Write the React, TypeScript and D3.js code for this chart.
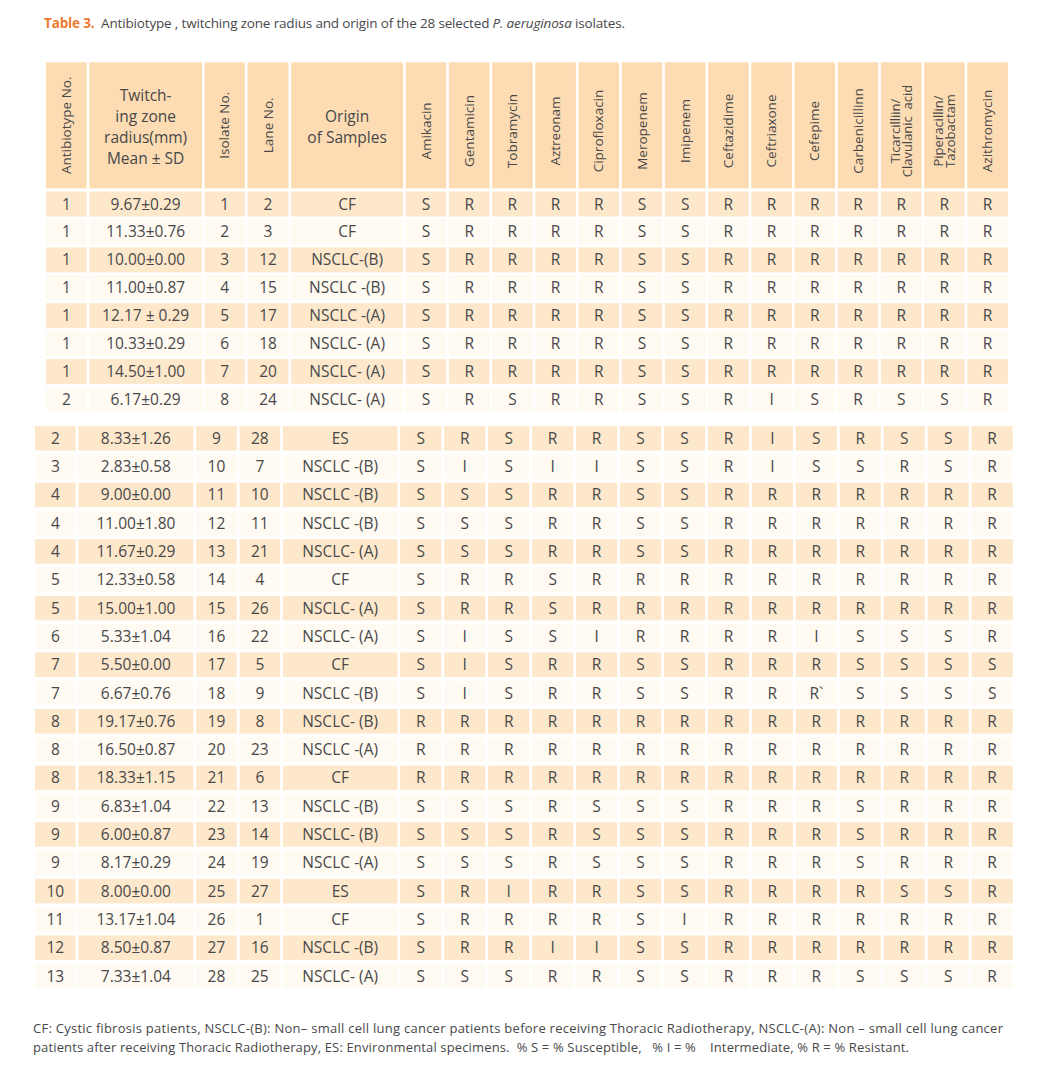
import React from "react";
import * as d3 from "d3";

// ---------- data ----------
const drugLabels: string[][] = [
  ["Amikacin"], ["Gentamicin"], ["Tobramycin"], ["Aztreonam"], ["Ciprofloxacin"],
  ["Meropenem"], ["Imipenem"], ["Ceftazidime"], ["Ceftriaxone"], ["Cefepime"],
  ["Carbenicillinn"], ["Ticarcilliin/", "Clavulanic  acid"], ["Piperacillin/", "Tazobactam"], ["Azithromycin"],
];

const antibiotypeNo = [1, 1, 1, 1, 1, 1, 1, 2, 2, 3, 4, 4, 4, 5, 5, 6, 7, 7, 8, 8, 8, 9, 9, 9, 10, 11, 12, 13];

const twitchingRadius = [
  "9.67±0.29", "11.33±0.76", "10.00±0.00", "11.00±0.87", "12.17 ± 0.29", "10.33±0.29", "14.50±1.00",
  "6.17±0.29", "8.33±1.26", "2.83±0.58", "9.00±0.00", "11.00±1.80", "11.67±0.29", "12.33±0.58",
  "15.00±1.00", "5.33±1.04", "5.50±0.00", "6.67±0.76", "19.17±0.76", "16.50±0.87", "18.33±1.15",
  "6.83±1.04", "6.00±0.87", "8.17±0.29", "8.00±0.00", "13.17±1.04", "8.50±0.87", "7.33±1.04",
];

const isolateNo = [1, 2, 3, 4, 5, 6, 7, 8, 9, 10, 11, 12, 13, 14, 15, 16, 17, 18, 19, 20, 21, 22, 23, 24, 25, 26, 27, 28];

const laneNo = [2, 3, 12, 15, 17, 18, 20, 24, 28, 7, 10, 11, 21, 4, 26, 22, 5, 9, 8, 23, 6, 13, 14, 19, 27, 1, 16, 25];

const origin = [
  "CF", "CF", "NSCLC-(B)", "NSCLC -(B)", "NSCLC -(A)", "NSCLC- (A)", "NSCLC- (A)", "NSCLC- (A)",
  "ES", "NSCLC -(B)", "NSCLC -(B)", "NSCLC -(B)", "NSCLC- (A)", "CF", "NSCLC- (A)", "NSCLC- (A)",
  "CF", "NSCLC -(B)", "NSCLC- (B)", "NSCLC -(A)", "CF", "NSCLC -(B)", "NSCLC- (B)", "NSCLC -(A)",
  "ES", "CF", "NSCLC -(B)", "NSCLC- (A)",
];

const profiles = [
  "S R R R R S S R R R R R R R",
  "S R R R R S S R R R R R R R",
  "S R R R R S S R R R R R R R",
  "S R R R R S S R R R R R R R",
  "S R R R R S S R R R R R R R",
  "S R R R R S S R R R R R R R",
  "S R R R R S S R R R R R R R",
  "S R S R R S S R I S R S S R",
  "S R S R R S S R I S R S S R",
  "S I S I I S S R I S S R S R",
  "S S S R R S S R R R R R R R",
  "S S S R R S S R R R R R R R",
  "S S S R R S S R R R R R R R",
  "S R R S R R R R R R R R R R",
  "S R R S R R R R R R R R R R",
  "S I S S I R R R R I S S S R",
  "S I S R R S S R R R S S S S",
  "S I S R R S S R R R` S S S S",
  "R R R R R R R R R R R R R R",
  "R R R R R R R R R R R R R R",
  "R R R R R R R R R R R R R R",
  "S S S R S S S R R R S R R R",
  "S S S R S S S R R R S R R R",
  "S S S R S S S R R R S R R R",
  "S R I R R S S R R R R S S R",
  "S R R R R S I R R R R R R R",
  "S R R I I S S R R R R R R R",
  "S S S R R S S R R R S S S R",
];

const fixedHeaders: { lines: string[]; rotated: boolean }[] = [
  { lines: ["Antibiotype No."], rotated: true },
  { lines: ["Twitch-", "ing zone", "radius(mm)", "Mean ± SD"], rotated: false },
  { lines: ["Isolate No."], rotated: true },
  { lines: ["Lane No."], rotated: true },
  { lines: ["Origin", "of Samples"], rotated: false },
];

const footnoteLines = [
  "CF: Cystic fibrosis patients, NSCLC-(B): Non– small cell lung cancer patients before receiving Thoracic Radiotherapy, NSCLC-(A): Non – small cell lung cancer",
  "patients after receiving Thoracic Radiotherapy, ES: Environmental specimens.  % S = % Susceptible,   % I = %    Intermediate, % R = % Resistant.",
];

// ---------- style / layout ----------
const W = 1046;
const H = 1071;
const FONT = "'Open Sans', 'Noto Sans', sans-serif";
const TEXT = "#48484a";
const ORANGE = "#ec7a2f";
const HEADER_FILL = "#fddcb3";
const STRIPE_FILL = "#fee8cc";
const LIGHT_FILL = "#fffaf2";

const blocks = [
  { rows: d3.range(0, 8), x0: 46, gap: 2.6, fixed: [40.7, 112.7, 40.3, 41, 112], drugStep: 43.2, drugW: 40.6, rowStart: 191.5, rowStep: 27.9, rowH: 25, header: true },
  { rows: d3.range(8, 28), x0: 35, gap: 2.7, fixed: [40.7, 115, 40.7, 40.7, 114.6], drugStep: 43.95, drugW: 41.2, rowStart: 426, rowStep: 28.3, rowH: 24.6, header: false },
];

const HEADER_TOP = 62.3;
const HEADER_BOTTOM = 188.3;

function Block({ b }: { b: (typeof blocks)[number] }) {
  const fixedX: number[] = [];
  let acc = b.x0;
  b.fixed.forEach((w) => {
    fixedX.push(acc);
    acc += w + b.gap;
  });
  const drugStart = acc;
  const pDrug = 1 - b.drugW / b.drugStep;
  const xDrug = d3
    .scaleBand<number>()
    .domain(d3.range(drugLabels.length))
    .range([drugStart, drugStart + b.drugStep * (drugLabels.length - pDrug)])
    .paddingInner(pDrug)
    .paddingOuter(0);
  const pRow = 1 - b.rowH / b.rowStep;
  const yRow = d3
    .scaleBand<number>()
    .domain(b.rows)
    .range([b.rowStart, b.rowStart + b.rowStep * (b.rows.length - pRow)])
    .paddingInner(pRow)
    .paddingOuter(0);

  const cols = [
    ...b.fixed.map((w, i) => ({ x: fixedX[i], w })),
    ...drugLabels.map((_, i) => ({ x: xDrug(i)!, w: xDrug.bandwidth() })),
  ];

  const hMid = (HEADER_TOP + HEADER_BOTTOM) / 2;

  return (
    <g>
      {b.header && (
        <g>
          {cols.map((c, i) => (
            <rect key={"h" + i} x={c.x} y={HEADER_TOP} width={c.w} height={HEADER_BOTTOM - HEADER_TOP} fill={HEADER_FILL} />
          ))}
          {fixedHeaders.map((h, i) => {
            const cx = cols[i].x + cols[i].w / 2;
            if (h.rotated) {
              return (
                <text key={"ht" + i} transform={`translate(${cx},${hMid}) rotate(-90)`} textAnchor="middle" dy="0.34em" fontSize={13.5} fill={TEXT}>
                  {h.lines[0]}
                </text>
              );
            }
            const lh = 21;
            const y0 = hMid + 2 - ((h.lines.length - 1) * lh) / 2;
            return (
              <text key={"ht" + i} textAnchor="middle" fontSize={15.5} fill={TEXT}>
                {h.lines.map((l, j) => (
                  <tspan key={j} x={cx} y={y0 + j * lh} dy="0.36em">
                    {l}
                  </tspan>
                ))}
              </text>
            );
          })}
          {drugLabels.map((lines, i) => {
            const cx = xDrug(i)! + xDrug.bandwidth() / 2;
            const lh = 12;
            return lines.map((l, j) => {
              const off = (j - (lines.length - 1) / 2) * lh;
              return (
                <text
                  key={"d" + i + "_" + j}
                  transform={`translate(${cx + off},131) rotate(-90)`}
                  textAnchor="middle"
                  dy="0.34em"
                  fontSize={lines.length > 1 ? 13 : 13.5}
                  fill={TEXT}
                  style={{ whiteSpace: "pre" }}
                >
                  {l}
                </text>
              );
            });
          })}
        </g>
      )}
      {b.rows.map((r, k) => {
        const y = yRow(r)!;
        const h = yRow.bandwidth();
        const fill = k % 2 === 0 ? STRIPE_FILL : LIGHT_FILL;
        const vals: (string | number)[] = [
          antibiotypeNo[r],
          twitchingRadius[r],
          isolateNo[r],
          laneNo[r],
          origin[r],
          ...profiles[r].split(" "),
        ];
        return (
          <g key={"r" + r}>
            {cols.map((c, i) => (
              <rect key={"c" + i} x={c.x} y={y} width={c.w} height={h} fill={fill} />
            ))}
            {cols.map((c, i) => (
              <text key={"t" + i} x={c.x + c.w / 2} y={y + h / 2} dy="0.36em" textAnchor="middle" fontSize={15.5} fill={TEXT} style={{ whiteSpace: "pre" }}>
                {vals[i]}
              </text>
            ))}
          </g>
        );
      })}
    </g>
  );
}

export default function App() {
  return (
    <div style={{ position: "absolute", left: 0, top: 0, width: W, height: H, overflow: "hidden", background: "#fff" }}>
      <svg width={W} height={H} viewBox={`0 0 ${W} ${H}`} fontFamily={FONT} style={{ display: "block" }}>
        <rect x={0} y={0} width={W} height={H} fill="#ffffff" />
        <text x={44} y={27.5} fontSize={13.5} fill={TEXT} textLength={581} lengthAdjust="spacing" style={{ whiteSpace: "pre" }}>
          <tspan fill={ORANGE} fontWeight={700}>Table 3.</tspan>
          <tspan>{"  Antibiotype , twitching zone radius and origin of the 28 selected "}</tspan>
          <tspan fontStyle="italic">P. aeruginosa</tspan>
          <tspan> isolates.</tspan>
        </text>
        {blocks.map((b, i) => (
          <Block key={i} b={b} />
        ))}
        {footnoteLines.map((l, i) => (
          <text
            key={"f" + i}
            x={33}
            y={1033 + i * 18.6}
            fontSize={13}
            fill={TEXT}
            textLength={i === 0 ? 970 : 876}
            lengthAdjust="spacing"
            style={{ whiteSpace: "pre" }}
          >
            {l}
          </text>
        ))}
      </svg>
    </div>
  );
}
